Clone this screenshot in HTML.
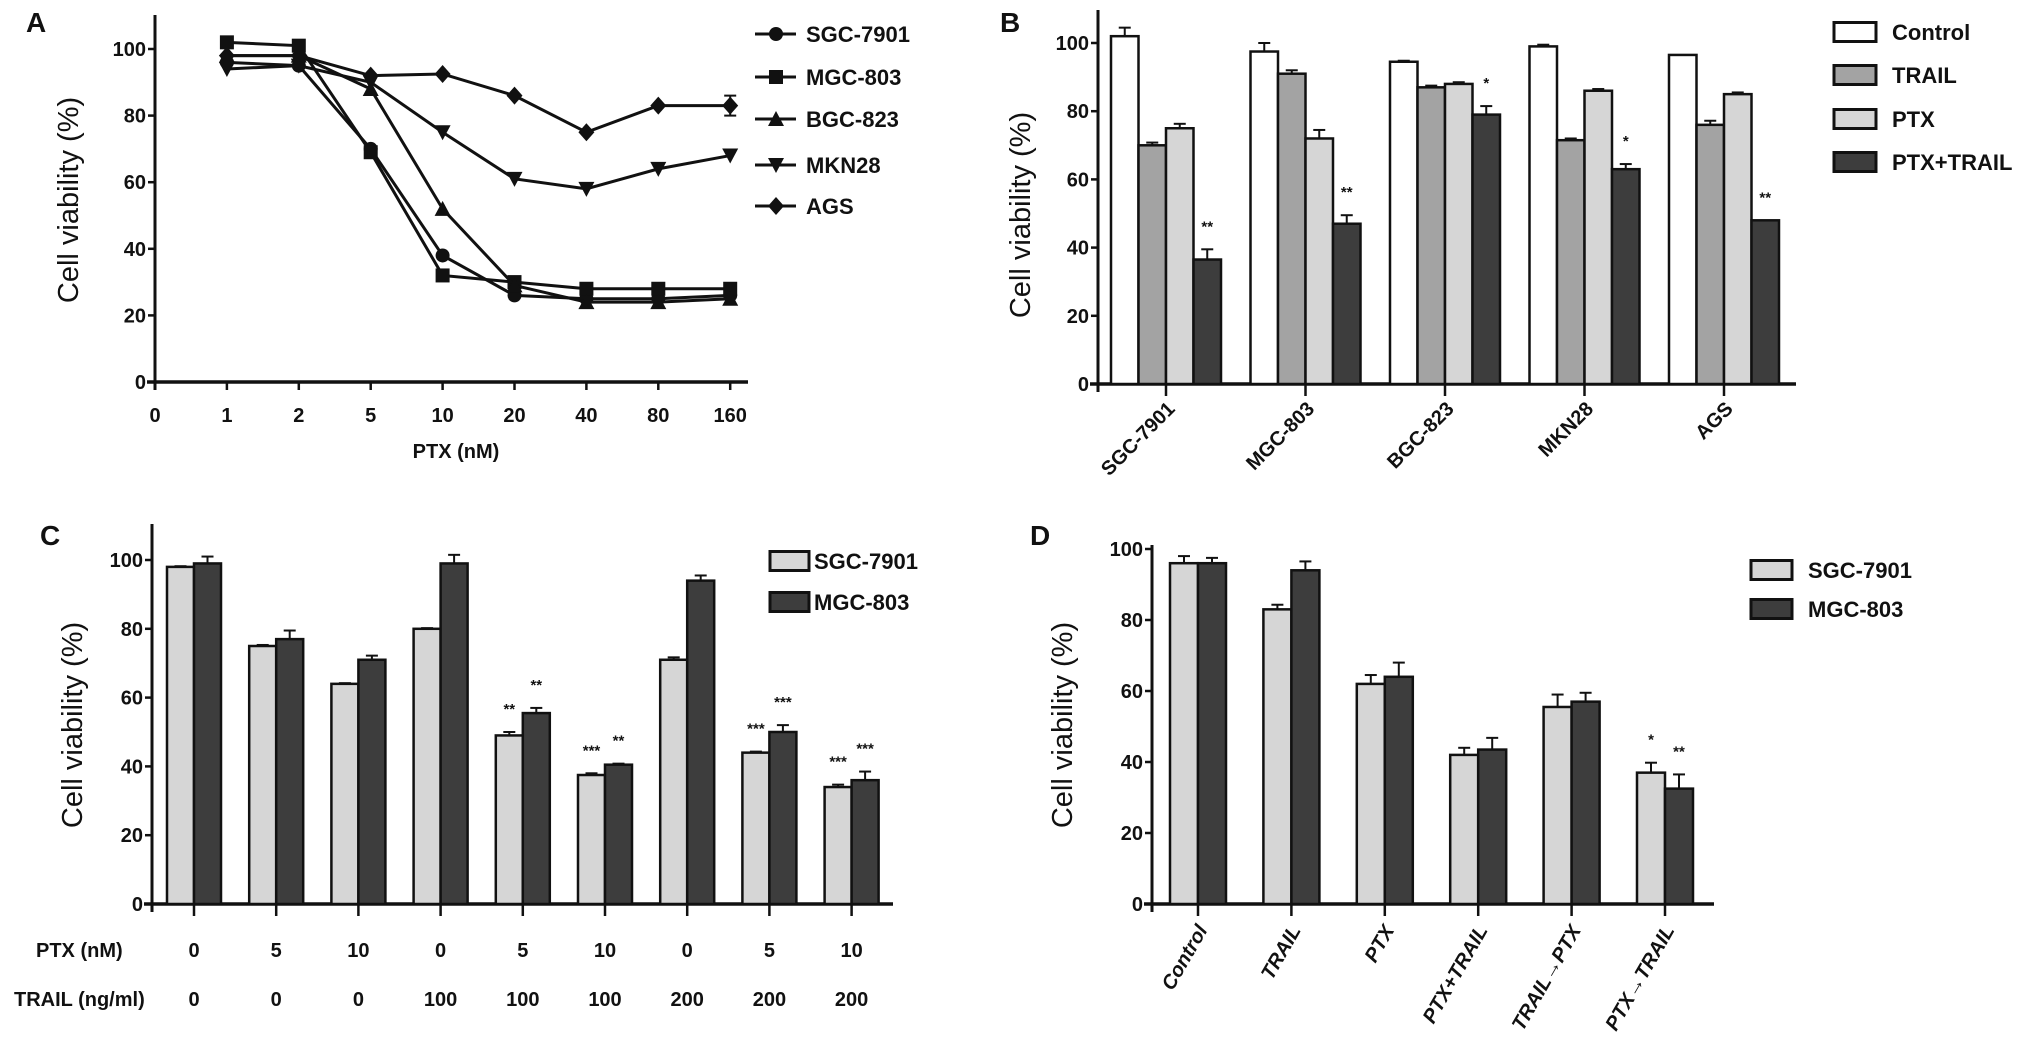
<!DOCTYPE html>
<html><head><meta charset="utf-8">
<style>
html,body{margin:0;padding:0;background:#fff;}
svg{display:block;}
text{font-family:"Liberation Sans Narrow","Liberation Sans",sans-serif;fill:#111;}
.tk{font-weight:bold;font-size:20px;}
.yl{font-family:"Liberation Sans",sans-serif;font-size:29px;}
.pl{font-family:"Liberation Sans",sans-serif;font-weight:bold;font-size:28px;}
.lg{font-weight:bold;font-size:22px;}
.st{font-weight:bold;font-size:15px;}
</style></head>
<body>
<svg id="fig" width="2031" height="1059" viewBox="0 0 2031 1059" xmlns="http://www.w3.org/2000/svg"></svg>
<script>
// ---- Panel A data ----
const aDoses = ["1","2","5","10","20","40","80","160"];
const aTicks = ["0","1","2","5","10","20","40","80","160"];
const aSeries = ["SGC-7901","MGC-803","BGC-823","MKN28","AGS"];
const aSGC = [96,95,70,38,26,25,25,26];
const aMGC = [102,101,69,32,30,28,28,28];
const aBGC = [98,98,88,52,29,24,24,25];
const aMKN = [94,95,90,75,61,58,64,68];
const aAGS = [98,98,92,92.5,86,75,83,83];
const yTicks = [0,20,40,60,80,100];
// ---- Panel B data ----
const bCats = ["SGC-7901","MGC-803","BGC-823","MKN28","AGS"];
const bSeries = ["Control","TRAIL","PTX","PTX+TRAIL"];
const bControl = [102,97.5,94.5,99,96.5];
const bTRAIL = [70,91,87,71.5,76];
const bPTX = [75,72,88,86,85];
const bCombo = [36.5,47,79,63,48];
const bErrControl = [2.5,2.5,0.3,0.5,0];
const bErrTRAIL = [0.8,1,0.5,0.5,1.2];
const bErrPTX = [1.3,2.5,0.5,0.5,0.5];
const bErrCombo = [3,2.5,2.5,1.5,0];
const bStarCombo = ["**","**","*","*","**"];
// ---- Panel C data ----
const cPTX = ["0","5","10","0","5","10","0","5","10"];
const cTRAIL = ["0","0","0","100","100","100","200","200","200"];
const cSGC = [98,75,64,80,49,37.5,71,44,34];
const cMGC = [99,77,71,99,55.5,40.5,94,50,36];
const cErrSGC = [0.2,0.3,0.2,0.2,1,0.5,0.7,0.3,0.7];
const cErrMGC = [2,2.5,1.2,2.5,1.5,0.3,1.5,2,2.5];
const cStarSGC = ["","","","","**","***","","***","***"];
const cStarMGC = ["","","","","**","**","","***","***"];
// ---- Panel D data ----
const dCats = ["Control","TRAIL","PTX","PTX+TRAIL","TRAIL\u2192PTX","PTX\u2192TRAIL"];
const dSGC = [96,83,62,42,55.5,37];
const dMGC = [96,94,64,43.5,57,32.5];
const dErrSGC = [2,1.3,2.5,2,3.5,2.8];
const dErrMGC = [1.5,2.5,4,3.3,2.5,4];
const dStarSGC = ["","","","","","*"];
const dStarMGC = ["","","","","","**"];

const NS="http://www.w3.org/2000/svg";
const svg=document.getElementById('fig');
function el(tag,attrs,parent,txt){const e=document.createElementNS(NS,tag);for(const k in attrs)e.setAttribute(k,attrs[k]);if(txt!==undefined)e.textContent=txt;(parent||svg).appendChild(e);return e;}
function group(name){const g=el('g',{},svg);


return g;}

function yAxis(g,x,y0,y100,top,xEnd,label,lx,ly){
  const ys=v=>y0-(y0-y100)*v/100;
  let l=el('line',{x1:x,y1:top,x2:x,y2:y0+8,stroke:'#111','stroke-width':3},g);
  
  
  l=el('line',{x1:x-8,y1:y0,x2:xEnd,y2:y0,stroke:'#111','stroke-width':3.5},g);
  
  
  yTicks.forEach(v=>{
    el('line',{x1:x-7,y1:ys(v),x2:x,y2:ys(v),stroke:'#111','stroke-width':2.5},g);
    const t=el('text',{x:x-9,y:ys(v)+7,'text-anchor':'end',class:'tk'},g,String(v));
    
    
  });
  const t=el('text',{x:lx,y:ly,'text-anchor':'middle',class:'yl',transform:`rotate(-90 ${lx} ${ly})`},g,label);
  
  
  return ys;
}
function panelLetter(g,ch,x,y){const t=el('text',{x:x,y:y,class:'pl'},g,ch);

}

function bar(g,x,w,ys,v,err,fill,star,name){
  const y=ys(v),y0=ys(0);
  const r=el('rect',{x:x,y:y,width:w,height:y0-y,fill:fill,stroke:'#111','stroke-width':2.5},g);
  
  
  if(err>0){const ye=ys(v+err);
    el('line',{x1:x+w/2,y1:y,x2:x+w/2,y2:ye,stroke:'#111','stroke-width':2},g);
    el('line',{x1:x+w/2-6,y1:ye,x2:x+w/2+6,y2:ye,stroke:'#111','stroke-width':2},g);}
  if(star){const s=el('text',{x:x+w/2,y:ys(v+err)-18,'text-anchor':'middle',class:'st'},g,star);
    
    }
}
function legendBox(g,x,y,w,h,fill,label,tx,name){
  const r=el('rect',{x:x,y:y-h/2,width:w,height:h,fill:fill,stroke:'#111','stroke-width':3},g);
  
  
  const t=el('text',{x:tx,y:y+8,class:'lg'},g,label);
  
  
}

// ===== Panel A =====
(function(){
  const g=group('panel-a-line-chart');
  panelLetter(g,'A',26,32);
  const ys=yAxis(g,155,382,49,15,748,'Cell viability (%)',78,200);
  const xs=i=>155+71.9*i;
  aTicks.forEach((t,i)=>{
    el('line',{x1:xs(i),y1:382,x2:xs(i),y2:390,stroke:'#111','stroke-width':2.5},g);
    const tx=el('text',{x:xs(i),y:422,'text-anchor':'middle',class:'tk'},g,t);
    
    
  });
  const xt=el('text',{x:456,y:458,'text-anchor':'middle',class:'tk'},g,'PTX (nM)');
  
  
  const data=[aSGC,aMGC,aBGC,aMKN,aAGS];
  const shapes=['circle','square','tri','itri','diamond'];
  function marker(p,shape,x,y){
    const s=7;
    if(shape==='circle')return el('circle',{cx:x,cy:y,r:s,fill:'#111'},p);
    if(shape==='square')return el('rect',{x:x-s,y:y-s,width:2*s,height:2*s,fill:'#111'},p);
    if(shape==='tri')return el('polygon',{points:`${x},${y-s-1} ${x-s-1},${y+s} ${x+s+1},${y+s}`,fill:'#111'},p);
    if(shape==='itri')return el('polygon',{points:`${x},${y+s+1} ${x-s-1},${y-s} ${x+s+1},${y-s}`,fill:'#111'},p);
    return el('polygon',{points:`${x},${y-s-2} ${x+s+1},${y} ${x},${y+s+2} ${x-s-1},${y}`,fill:'#111'},p);
  }
  data.forEach((arr,si)=>{
    const sg=el('g',{},g);
    
    
    const pts=arr.map((v,i)=>`${xs(i+1)},${ys(v)}`).join(' ');
    const pl=el('polyline',{points:pts,fill:'none',stroke:'#111','stroke-width':3},sg);
    
    
    arr.forEach((v,i)=>{const m=marker(sg,shapes[si],xs(i+1),ys(v));
      
      });
    const ly=[34,77,119,165,206][si];
    const lg=el('g',{},g);
    
    
    el('line',{x1:755,y1:ly,x2:796,y2:ly,stroke:'#111','stroke-width':3},lg);
    marker(lg,shapes[si],776,ly);
    el('text',{x:806,y:ly+8,class:'lg'},lg,aSeries[si]);
  });
  el('line',{x1:xs(8),y1:ys(86),x2:xs(8),y2:ys(80),stroke:'#111','stroke-width':2},g);
  el('line',{x1:xs(8)-6,y1:ys(86),x2:xs(8)+6,y2:ys(86),stroke:'#111','stroke-width':2},g);
  el('line',{x1:xs(8)-6,y1:ys(80),x2:xs(8)+6,y2:ys(80),stroke:'#111','stroke-width':2},g);
})();

// ===== Panel B =====
(function(){
  const g=group('panel-b-bar-chart');
  panelLetter(g,'B',1000,32);
  const ys=yAxis(g,1098,384,43,10,1796,'Cell viability (%)',1030,215);
  const xs=i=>1166+139.5*i;
  const vals=[bControl,bTRAIL,bPTX,bCombo];
  const errs=[bErrControl,bErrTRAIL,bErrPTX,bErrCombo];
  const fills=['#ffffff','#a3a3a3','#d6d6d6','#3d3d3d'];
  const w=27.5;
  bCats.forEach((c,i)=>{
    vals.forEach((arr,s)=>{
      bar(g,xs(i)-2*w+s*w,w,ys,arr[i],errs[s][i],fills[s],s===3?bStarCombo[i]:'','bar-'+c.toLowerCase()+'-'+bSeries[s].toLowerCase());
    });
    el('line',{x1:xs(i),y1:384,x2:xs(i),y2:396,stroke:'#111','stroke-width':2.5},g);
    const ex=xs(i)+10,ey=410;
    const t=el('text',{x:ex,y:ey,'text-anchor':'end',class:'tk',transform:`rotate(-45 ${ex} ${ey})`},g,c);
    
    
  });
  bSeries.forEach((s,i)=>legendBox(g,1834,[32,75,119,162][i],42,19,fills[i],s,1892,'legend-'+s.toLowerCase()));
})();

// ===== Panel C =====
(function(){
  const g=group('panel-c-bar-chart');
  panelLetter(g,'C',40,545);
  const ys=yAxis(g,152,904,560,524,893,'Cell viability (%)',82,725);
  const xs=i=>194+82.2*i;
  const w=27;
  cPTX.forEach((p,i)=>{
    bar(g,xs(i)-w,w,ys,cSGC[i],cErrSGC[i],'#d6d6d6',cStarSGC[i],'bar-sgc-7901-'+i);
    bar(g,xs(i),w,ys,cMGC[i],cErrMGC[i],'#3d3d3d',cStarMGC[i],'bar-mgc-803-'+i);
    el('line',{x1:xs(i),y1:904,x2:xs(i),y2:916,stroke:'#111','stroke-width':2.5},g);
    let t=el('text',{x:xs(i),y:957,'text-anchor':'middle',class:'tk'},g,p);
    
    
    t=el('text',{x:xs(i),y:1006,'text-anchor':'middle',class:'tk'},g,cTRAIL[i]);
    
    
  });
  let t=el('text',{x:36,y:957,class:'tk'},g,'PTX (nM)');
  
  
  t=el('text',{x:14,y:1006,class:'tk'},g,'TRAIL  (ng/ml)');
  
  
  legendBox(g,770,561,39,19,'#d6d6d6','SGC-7901',814,'legend-sgc-7901');
  legendBox(g,770,602,39,19,'#3d3d3d','MGC-803',814,'legend-mgc-803');
})();

// ===== Panel D =====
(function(){
  const g=group('panel-d-bar-chart');
  panelLetter(g,'D',1030,545);
  const ys=yAxis(g,1152,904,549,545,1714,'Cell viability (%)',1072,725);
  const xs=i=>1198+93.4*i;
  const w=28;
  dCats.forEach((c,i)=>{
    bar(g,xs(i)-w,w,ys,dSGC[i],dErrSGC[i],'#d6d6d6',dStarSGC[i],'bar-sgc-7901-'+i);
    bar(g,xs(i),w,ys,dMGC[i],dErrMGC[i],'#3d3d3d',dStarMGC[i],'bar-mgc-803-'+i);
    el('line',{x1:xs(i),y1:904,x2:xs(i),y2:916,stroke:'#111','stroke-width':2.5},g);
    const ex=xs(i)+10,ey=930;
    const t=el('text',{x:ex,y:ey,'text-anchor':'end',class:'tk','font-style':'italic',transform:`rotate(-60 ${ex} ${ey})`},g,c);
    
    
  });
  legendBox(g,1751,570,41,19,'#d6d6d6','SGC-7901',1808,'legend-sgc-7901');
  legendBox(g,1751,609,41,19,'#3d3d3d','MGC-803',1808,'legend-mgc-803');
})();
</script>
</body></html>
